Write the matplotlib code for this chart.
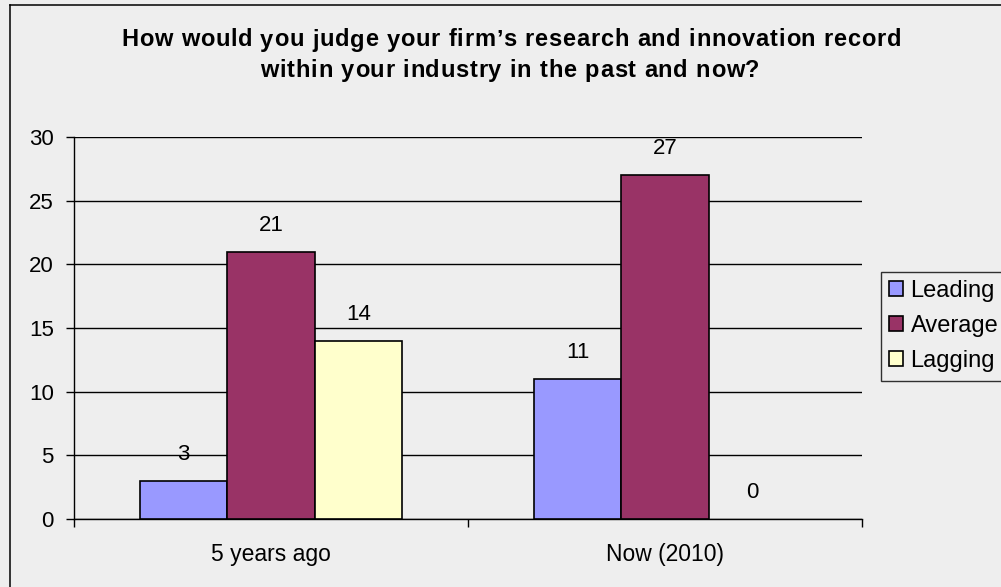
import numpy as np
import matplotlib.pyplot as plt
from matplotlib.lines import Line2D
from matplotlib.font_manager import FontProperties, findfont
from matplotlib.ft2font import FT2Font

# survey answers, counts of firms
periods = ['5 years ago', 'Now (2010)']
series = ['Leading', 'Average', 'Lagging']
leading = [3, 11]
average = [21, 27]
lagging = [14, 0]
colors = ['#9999FF', '#993366', '#FFFFCC']

title_lines = ["How would you judge your firm\u2019s research and innovation record",
               "within your industry in the past and now?"]

W, H = 1001, 587


def spaced_text(fig, s, xc, ybase, size, tracking, **kw):
    # draw a line char by char with extra letter spacing (pixel units)
    fp = FontProperties(family='Liberation Sans', weight=kw.get('fontweight', 'normal'))
    font = FT2Font(findfont(fp))
    font.set_size(size, 100)
    adv = []
    for c in s:
        g = font.load_char(ord(c))
        adv.append(g.linearHoriAdvance / 65536)
    total = sum(adv) + tracking * (len(s) - 1)
    x = xc - total / 2
    for c, a in zip(s, adv):
        fig.text(x / W, 1 - ybase / H, c, ha='left', va='baseline',
                 fontsize=size, **kw)
        x += a + tracking


def main():
    plt.rcParams['font.family'] = ['Liberation Sans', 'DejaVu Sans']
    bg = '#EEEEEE'

    fig = plt.figure(figsize=(W / 100, H / 100), dpi=100, facecolor=bg)
    ax = fig.add_axes([74 / W, 1 - 519 / H, 788 / W, 382 / H], facecolor=bg)

    # outer frame (right and bottom edges run off the canvas)
    fig.add_artist(Line2D([10 / W, 1.0], [1 - 5 / H] * 2, color='black', lw=1.1))
    fig.add_artist(Line2D([10 / W] * 2, [0.0, 1 - 5 / H], color='black', lw=1.1))

    x = np.arange(len(periods))
    width = 0.222
    values = [leading, average, lagging]

    ax.yaxis.grid(True, color='black', lw=1)
    ax.set_axisbelow(True)

    for i, (name, vals, col) in enumerate(zip(series, values, colors)):
        pos = x + (i - 1) * width
        lws = [1.2 if v else 0 for v in vals]
        ax.bar(pos, vals, width, color=col, edgecolor='black', linewidth=lws,
               label=name, zorder=3)
        for px, v in zip(pos, vals):
            ax.annotate(str(v), (px, v), xytext=(0, 19), textcoords='offset points',
                        ha='center', va='center', fontsize=16)

    ax.set_xlim(-0.5, 1.5)
    ax.set_ylim(0, 30)
    ax.set_yticks(range(0, 31, 5))

    # category boundary ticks, labels centered on groups
    ax.set_xticks([-0.5, 0.5, 1.5])
    ax.set_xticklabels([])
    ax.set_xticks(x, minor=True)
    ax.set_xticklabels(periods, minor=True)
    ax.tick_params(axis='x', which='minor', length=0, pad=17, labelsize=16.5)
    ax.tick_params(axis='x', which='major', length=6, width=1, direction='out')
    ax.tick_params(axis='y', length=6, width=1, labelsize=16, pad=8.5)

    for s in ['top', 'right']:
        ax.spines[s].set_visible(False)
    for s in ['left', 'bottom']:
        ax.spines[s].set_color('black')
        ax.spines[s].set_linewidth(1)

    spaced_text(fig, title_lines[0], 511, 46.5, 17, 0.8, fontweight='bold')
    spaced_text(fig, title_lines[1], 510, 77.5, 17, 0.8, fontweight='bold')

    leg = ax.legend(loc='upper left', bbox_to_anchor=(881 / W, 1 - 272 / H),
                    bbox_transform=fig.transFigure, fontsize=17, frameon=True,
                    fancybox=False, edgecolor='black', facecolor=bg,
                    handlelength=0.6, handleheight=0.6, handletextpad=0.3,
                    labelspacing=0.55, borderpad=0.35, borderaxespad=0)
    leg.get_frame().set_linewidth(1)

    fig.savefig('out.png', dpi=100, facecolor=bg)


if __name__ == "__main__":
    main()
